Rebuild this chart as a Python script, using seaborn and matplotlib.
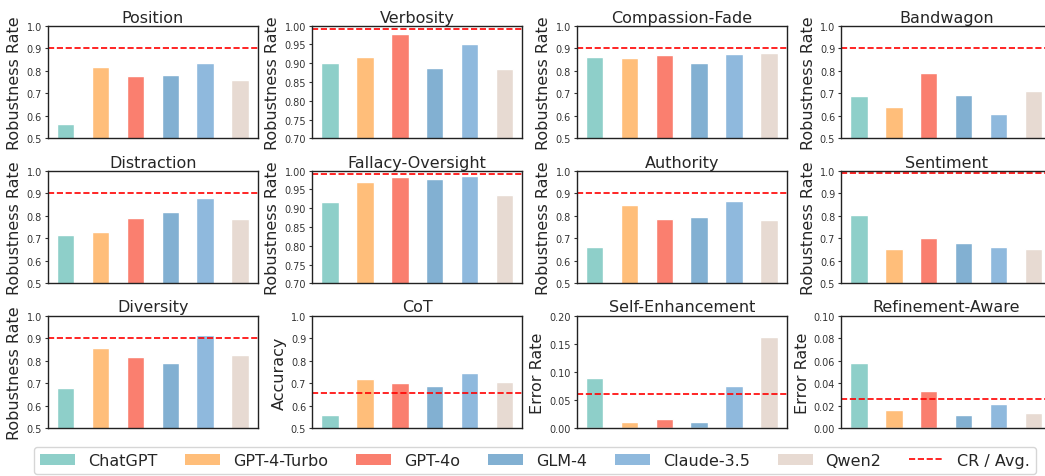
import matplotlib
matplotlib.use("Agg")
import matplotlib.pyplot as plt
from matplotlib.patches import Patch
from matplotlib.lines import Line2D
import seaborn as sns
import pandas as pd
import numpy as np

models = ["ChatGPT", "GPT-4-Turbo", "GPT-4o", "GLM-4", "Claude-3.5", "Qwen2"]
colors = ["#8ECFC9", "#FFBE7A", "#FA7F6F", "#82B0D2", "#8FB9DD", "#E7DAD2"]

titles = ["Position", "Verbosity", "Compassion-Fade", "Bandwagon",
          "Distraction", "Fallacy-Oversight", "Authority", "Sentiment",
          "Diversity", "CoT", "Self-Enhancement", "Refinement-Aware"]

position = [0.564, 0.816, 0.776, 0.781, 0.834, 0.758]
verbosity = [0.900, 0.917, 0.978, 0.887, 0.951, 0.885]
compassion_fade = [0.861, 0.857, 0.870, 0.836, 0.874, 0.880]
bandwagon = [0.688, 0.639, 0.790, 0.692, 0.608, 0.712]
distraction = [0.714, 0.728, 0.790, 0.817, 0.879, 0.786]
fallacy_oversight = [0.917, 0.970, 0.983, 0.978, 0.986, 0.935]
authority = [0.661, 0.848, 0.786, 0.794, 0.865, 0.781]
sentiment = [0.803, 0.652, 0.701, 0.679, 0.661, 0.652]
diversity = [0.679, 0.857, 0.817, 0.790, 0.914, 0.825]
cot = [0.559, 0.719, 0.701, 0.688, 0.746, 0.706]
self_enhancement = [0.0893, 0.0112, 0.0166, 0.0112, 0.0751, 0.1621]
refinement_aware = [0.0580, 0.0163, 0.0331, 0.0118, 0.0216, 0.0136]

series = [position, verbosity, compassion_fade, bandwagon,
          distraction, fallacy_oversight, authority, sentiment,
          diversity, cot, self_enhancement, refinement_aware]

ref_lines = [0.90, 0.992, 0.90, 0.90,
             0.90, 0.992, 0.90, 0.991,
             0.90, 0.657, 0.0609, 0.0257]

ylabels = ["Robustness Rate"] * 9 + ["Accuracy", "Error Rate", "Error Rate"]

ylims = [(0.5, 1.0), (0.70, 1.00), (0.5, 1.0), (0.5, 1.0),
         (0.5, 1.0), (0.70, 1.00), (0.5, 1.0), (0.5, 1.0),
         (0.5, 1.0), (0.5, 1.0), (0.0, 0.20), (0.0, 0.10)]
ytick_steps = [0.1, 0.05, 0.1, 0.1, 0.1, 0.05, 0.1, 0.1, 0.1, 0.1, 0.05, 0.02]
ytick_fmt = ["%.1f", "%.2f", "%.1f", "%.1f", "%.1f", "%.2f", "%.1f", "%.1f",
             "%.1f", "%.1f", "%.2f", "%.2f"]

sns.set_style("ticks")
plt.rcParams["font.family"] = ["DejaVu Sans"]

fig, axes = plt.subplots(3, 4, figsize=(10.45, 4.77), dpi=100)
fig.subplots_adjust(left=48 / 1045, right=1051 / 1045,
                    top=1 - 26.7 / 477, bottom=1 - 429.3 / 477,
                    wspace=0.262, hspace=0.287)

palette = dict(zip(models, colors))
for i, ax in enumerate(axes.flat):
    df = pd.DataFrame({"model": models, "value": series[i]})
    sns.barplot(data=df, x="model", y="value", hue="model", palette=palette,
                width=0.5, legend=False, ax=ax, saturation=1)
    ax.axhline(ref_lines[i], color="red", linestyle="--", linewidth=1.2)
    lo, hi = ylims[i]
    ax.set_ylim(lo, hi)
    ticks = np.arange(lo, hi + 1e-9, ytick_steps[i])
    ax.set_yticks(ticks)
    ax.set_yticklabels([ytick_fmt[i] % t for t in ticks], fontsize=7)
    ax.set_xlim(-0.5, 5.5)
    ax.set_xticks([])
    ax.set_xlabel("")
    ax.set_ylabel(ylabels[i], fontsize=11.5, labelpad=3)
    ax.set_title(titles[i], fontsize=11.5, pad=3)
    ax.tick_params(axis="y", length=2.5, width=0.8, pad=2, colors="#333333")
    for s in ax.spines.values():
        s.set_linewidth(1.0)
        s.set_color("#222222")

handles = [Patch(facecolor=c, edgecolor="none", label=m) for m, c in zip(models, colors)]
handles.append(Line2D([0], [0], color="red", linestyle="--", linewidth=1.2, label="CR / Avg."))
fig.legend(handles=handles, loc="lower center", bbox_to_anchor=(0.512, 0.0),
           ncol=7, fontsize=11.5, frameon=True, handlelength=2.2,
           columnspacing=1.75, borderpad=0.4, handletextpad=0.8,
           borderaxespad=0.1)

fig.savefig("out.png", dpi=100)
